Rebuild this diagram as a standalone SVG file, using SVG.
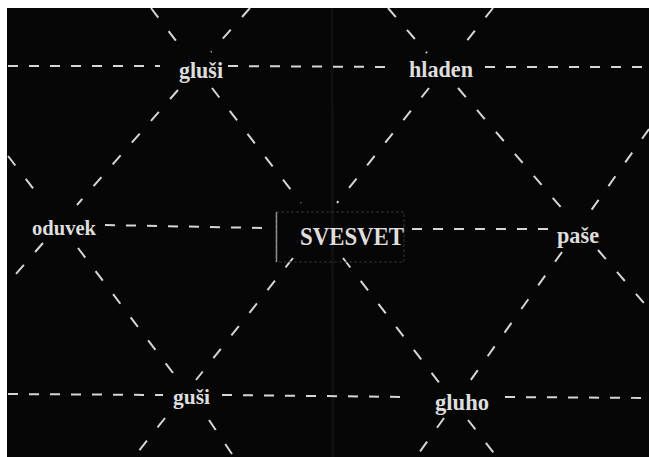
<svg xmlns="http://www.w3.org/2000/svg" width="649" height="457" viewBox="0 0 649 457">
  <style>
    .h { stroke: #d6d6d6; stroke-width: 2; stroke-dasharray: 10 11; fill: none; }
    .d { stroke: #d6d6d6; stroke-width: 2; stroke-dasharray: 12 17; fill: none; }
    .t { font-family: "Liberation Serif", "DejaVu Serif", serif; font-weight: bold; fill: #dedede; }
  </style>
  <rect x="0" y="0" width="649" height="457" fill="#ffffff"/>
  <rect x="7" y="8" width="642" height="449" fill="#060606"/>
  <line x1="332" y1="8" x2="333" y2="457" stroke="#101010" stroke-width="3"/>

  <g id="connectors">
    <line class="h" x1="8" y1="66" x2="160" y2="66"/>
    <line class="h" x1="228" y1="66" x2="390" y2="67"/>
    <line class="h" x1="485" y1="67" x2="649" y2="67"/>
    <line class="h" x1="105" y1="225" x2="262" y2="228"/>
    <line class="h" x1="412" y1="229" x2="550" y2="229"/>
    <line class="h" x1="8" y1="394" x2="163" y2="395"/>
    <line class="h" x1="222" y1="395" x2="410" y2="397"/>
    <line class="h" x1="505" y1="397" x2="649" y2="398"/>

    <line class="d" x1="8" y1="156" x2="42" y2="200"/>
    <line class="d" x1="78" y1="248" x2="176" y2="377"/>
    <line class="d" x1="209" y1="420" x2="234" y2="457"/>

    <line class="d" x1="151" y1="8" x2="183" y2="50"/>
    <line class="d" x1="212" y1="88" x2="301" y2="203"/>
    <line class="d" x1="343" y1="258" x2="441" y2="385"/>
    <line class="d" x1="468" y1="420" x2="497" y2="457"/>

    <line class="d" x1="388" y1="8" x2="427" y2="53"/>
    <line class="d" x1="458" y1="88" x2="565" y2="212"/>
    <line class="d" x1="598" y1="250" x2="649" y2="309"/>

    <line class="d" x1="250" y1="8" x2="211" y2="52"/>
    <line class="d" x1="178" y1="90" x2="77" y2="205"/>
    <line class="d" x1="43" y1="243" x2="8" y2="283"/>

    <line class="d" x1="493" y1="8" x2="457" y2="53"/>
    <line class="d" x1="429" y1="88" x2="337" y2="203"/>
    <line class="d" x1="293" y1="258" x2="196" y2="380"/>
    <line class="d" x1="165" y1="418" x2="134" y2="457"/>

    <line class="d" x1="649" y1="129" x2="590" y2="212"/>
    <line class="d" x1="562" y1="252" x2="465" y2="388"/>
    <line class="d" x1="444" y1="418" x2="416" y2="457"/>
  </g>

  <g id="node-glusi">
    <text class="t" x="179" y="78" font-size="23" textLength="44" lengthAdjust="spacingAndGlyphs">gluši</text>
  </g>
  <g id="node-hladen">
    <text class="t" x="409" y="77" font-size="23" textLength="64" lengthAdjust="spacingAndGlyphs">hladen</text>
  </g>
  <g id="node-oduvek">
    <text class="t" x="32" y="235" font-size="21" textLength="64" lengthAdjust="spacingAndGlyphs">oduvek</text>
  </g>
  <g id="node-svesvet">
    <rect x="276" y="212" width="128" height="50" fill="none" stroke="#303030" stroke-width="1" stroke-dasharray="3 2"/>
    <line x1="276.5" y1="212" x2="276.5" y2="262" stroke="#8c8c8c" stroke-width="1.5"/>
    <text class="t" x="300" y="245" font-size="25" textLength="104" lengthAdjust="spacingAndGlyphs">SVESVET</text>
  </g>
  <g id="node-pase">
    <text class="t" x="557" y="243" font-size="23" textLength="42" lengthAdjust="spacingAndGlyphs">paše</text>
  </g>
  <g id="node-gusi">
    <text class="t" x="173" y="404" font-size="22" textLength="37" lengthAdjust="spacingAndGlyphs">guši</text>
  </g>
  <g id="node-gluho">
    <text class="t" x="435" y="410" font-size="23" textLength="54" lengthAdjust="spacingAndGlyphs">gluho</text>
  </g>
</svg>
